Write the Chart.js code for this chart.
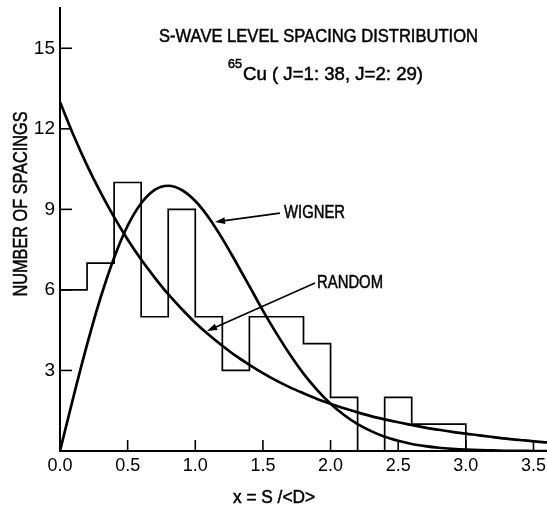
<!DOCTYPE html>
<html><head><meta charset="utf-8">
<script src="https://cdn.jsdelivr.net/npm/chart.js@4.4.0/dist/chart.umd.min.js"></script>
<style>html,body{margin:0;padding:0;background:#fff;} canvas{display:block;}</style>
</head><body>
<canvas id="c" width="547" height="508"></canvas>
<script>
// ---- data ----
const binEdges  = [0,0.2,0.4,0.6,0.8,1.0,1.2,1.4,1.6,1.8,2.0,2.2,2.4,2.6,2.8,3.0];
const binCounts = [6,7,10,5,9,5,3,5,5,4,2,0,2,1,1];

const curveX = [0,0.1,0.2,0.3,0.4,0.5,0.6,0.7,0.8,0.9,1.0,1.1,1.2,1.3,1.4,1.5,1.6,1.7,1.8,1.9,
                2.0,2.1,2.2,2.3,2.4,2.5,2.6,2.7,2.8,2.9,3.0,3.1,3.2,3.3,3.4,3.5,3.6];
const randomY = [13.00,11.76,10.64,9.63,8.71,7.88,7.13,6.46,5.84,5.29,4.78,4.33,3.92,3.54,3.21,2.90,2.62,2.37,2.15,1.94,
                 1.76,1.59,1.44,1.30,1.18,1.07,0.97,0.87,0.79,0.71,0.65,0.58,0.52,0.46,0.41,0.36,0.32];
const wignerY = [0,2.03,3.96,5.71,7.20,8.39,9.23,9.73,9.88,9.72,9.31,8.69,7.91,7.04,6.14,5.23,4.38,3.59,2.88,2.28,
                 1.76,1.34,1.00,0.74,0.53,0.38,0.26,0.18,0.12,0.08,0.05,0.03,0.02,0.01,0.01,0,0];

const xTickValues = [0,0.5,1,1.5,2,2.5,3,3.5];
const yTickValues = [3,6,9,12,15];

const titleText = 'S-WAVE LEVEL SPACING DISTRIBUTION';
const subSup = '65';
const subText = 'Cu ( J=1: 38, J=2: 29)';
const wignerLabel = 'WIGNER';
const randomLabel = 'RANDOM';
const yTitle = 'NUMBER OF SPACINGS';
const xTitle = 'x = S /<D>';

const FONT = "'Liberation Sans', Arial, sans-serif";

function drawFitted(ctx, text, x, y, px, targetW, align, rot) {
  ctx.save();
  ctx.font = px + 'px ' + FONT;
  const w = ctx.measureText(text).width;
  const sx = targetW / w;
  ctx.translate(x, y);
  if (rot) ctx.rotate(rot);
  ctx.scale(sx, 1);
  ctx.textAlign = align;
  ctx.textBaseline = 'middle';
  ctx.fillStyle = '#000';
  ctx.strokeStyle = '#000';
  ctx.lineWidth = 0.5;
  ctx.fillText(text, 0, 0);
  ctx.strokeText(text, 0, 0);
  ctx.restore();
}

function arrow(ctx, x0, y0, x1, y1) {
  ctx.save();
  ctx.strokeStyle = '#000'; ctx.fillStyle = '#000';
  ctx.lineWidth = 1.6;
  const ang = Math.atan2(y1 - y0, x1 - x0);
  const L = 10, H = 3.5;
  ctx.beginPath();
  ctx.moveTo(x0, y0);
  ctx.lineTo(x1 - Math.cos(ang) * L * 0.8, y1 - Math.sin(ang) * L * 0.8);
  ctx.stroke();
  ctx.beginPath();
  ctx.moveTo(x1, y1);
  ctx.lineTo(x1 - Math.cos(ang) * L - Math.sin(ang) * H, y1 - Math.sin(ang) * L + Math.cos(ang) * H);
  ctx.lineTo(x1 - Math.cos(ang) * L + Math.sin(ang) * H, y1 - Math.sin(ang) * L - Math.cos(ang) * H);
  ctx.closePath();
  ctx.fill();
  ctx.restore();
}

const annotationPlugin = {
  id: 'annot',
  afterDraw(chart) {
    const ctx = chart.ctx;
    const xs = chart.scales.x, ys = chart.scales.y;
    const ca = chart.chartArea;
    const X = v => xs.getPixelForValue(v), Y = v => ys.getPixelForValue(v);

    // tick marks pointing inward
    ctx.save();
    ctx.strokeStyle = '#000'; ctx.lineWidth = 1.6;
    xTickValues.forEach(v => {
      if (v === 0) return;
      const p = X(v);
      ctx.beginPath(); ctx.moveTo(p, ca.bottom); ctx.lineTo(p, ca.bottom - 11); ctx.stroke();
    });
    yTickValues.forEach(v => {
      const p = Y(v);
      ctx.beginPath(); ctx.moveTo(ca.left, p); ctx.lineTo(ca.left + 12, p); ctx.stroke();
    });
    ctx.restore();

    // titles
    drawFitted(ctx, titleText, X(1.911), Y(15.42), 18, 319, 'center');
    drawFitted(ctx, subSup, X(1.242), Y(14.39), 12, 14, 'left');
    drawFitted(ctx, subText, X(1.353), Y(14.0), 19, 180, 'left');

    // curve labels with arrows
    drawFitted(ctx, wignerLabel, X(1.656), Y(8.85), 18, 61, 'left');
    arrow(ctx, X(1.626), Y(8.86), X(1.146), Y(8.53));
    drawFitted(ctx, randomLabel, X(1.900), Y(6.26), 19, 66, 'left');
    arrow(ctx, X(1.885), Y(6.26), X(1.087), Y(4.47));

    // axis titles
    drawFitted(ctx, yTitle, ca.left - 39, Y(9.2), 20, 185, 'center', -Math.PI / 2);
    drawFitted(ctx, xTitle, X(1.582), ca.bottom + 47.5, 18, 82, 'center');
  }
};

const histData = binEdges.map((x, i) => ({ x: x, y: i < binCounts.length ? binCounts[i] : 0 }));
const randomData = curveX.map((x, i) => ({ x: x, y: randomY[i] }));
const wignerData = curveX.map((x, i) => ({ x: x, y: wignerY[i] }));

function noPad(s) { s.paddingTop = 0; s.paddingBottom = 0; s.paddingLeft = 0; s.paddingRight = 0; }

new Chart(document.getElementById('c'), {
  type: 'line',
  data: {
    datasets: [
      { label: 'Histogram', data: histData, stepped: 'before', borderColor: '#000', borderWidth: 1.7,
        pointRadius: 0, fill: false },
      { label: 'RANDOM', data: randomData, cubicInterpolationMode: 'monotone', borderColor: '#000',
        borderWidth: 2.7, pointRadius: 0, fill: false },
      { label: 'WIGNER', data: wignerData, cubicInterpolationMode: 'monotone', borderColor: '#000',
        borderWidth: 2.7, pointRadius: 0, fill: false }
    ]
  },
  options: {
    responsive: false,
    animation: false,
    layout: { padding: { top: 8, left: 0, right: 0, bottom: 0 } },
    plugins: { legend: { display: false }, tooltip: { enabled: false } },
    scales: {
      x: {
        type: 'linear', min: 0, max: 3.6,
        afterBuildTicks: s => { s.ticks = xTickValues.map(v => ({ value: v })); },
        afterFit: s => { s.height = 57; noPad(s); },
        grid: { display: false, drawTicks: false },
        border: { display: true, color: '#000', width: 2 },
        ticks: { color: '#000', font: { family: FONT, size: 18 }, padding: 4,
                 maxRotation: 0, autoSkip: false, callback: v => Number(v).toFixed(1) }
      },
      y: {
        type: 'linear', min: 0, max: 16.5,
        afterBuildTicks: s => { s.ticks = yTickValues.map(v => ({ value: v })); },
        afterFit: s => { s.width = 60; noPad(s); },
        grid: { display: false, drawTicks: false },
        border: { display: true, color: '#000', width: 2 },
        ticks: { color: '#000', font: { family: FONT, size: 19 }, padding: 5,
                 autoSkip: false, callback: v => String(v) }
      }
    }
  },
  plugins: [annotationPlugin]
});
</script>
</body></html>
